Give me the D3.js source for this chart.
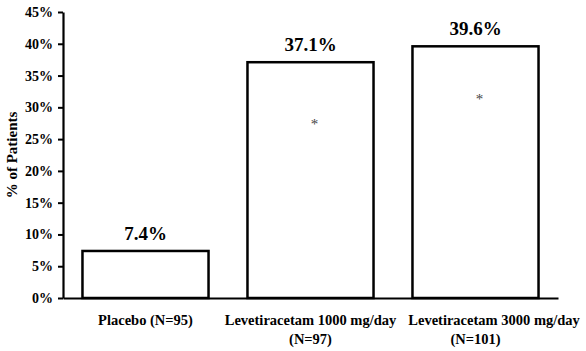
<!DOCTYPE html>
<html lang="en">
<head>
<meta charset="UTF-8">
<title>% of Patients</title>
<script src="https://cdnjs.cloudflare.com/ajax/libs/d3/7.8.5/d3.min.js"></script>
<style>
  body { margin: 0; background: #fff; }
  text { font-family: "Liberation Serif", "Times New Roman", serif; font-weight: bold; }
</style>
</head>
<body>
<div id="wrapper"></div>
<script>
// data
const groups = ['Placebo (N=95)', 'Levetiracetam 1000 mg/day (N=97)', 'Levetiracetam 3000 mg/day (N=101)']
const groupLines = [['Placebo (N=95)'], ['Levetiracetam 1000 mg/day', '(N=97)'], ['Levetiracetam 3000 mg/day', '(N=101)']]
const values = [7.4, 37.1, 39.6]
const valueLabels = ['7.4%', '37.1%', '39.6%']
const starAt = [null, 27.5, 31.5]   // where the significance mark sits
const yTicks = [0, 5, 10, 15, 20, 25, 30, 35, 40, 45]

function drawChart() {
  const dimensions = {
    width: 586,
    height: 351,
    margin: { top: 12, right: 28, bottom: 53, left: 63 }
  }
  dimensions.boundedWidth = dimensions.width - dimensions.margin.left - dimensions.margin.right
  dimensions.boundedHeight = dimensions.height - dimensions.margin.top - dimensions.margin.bottom

  const svg = d3.select('#wrapper')
    .append('svg')
      .attr('width', dimensions.width)
      .attr('height', dimensions.height)

  const bounds = svg.append('g')
    .attr('transform', `translate(${dimensions.margin.left},${dimensions.margin.top})`)

  // scales
  const xScale = d3.scaleBand()
    .domain(groups)
    .range([0, dimensions.boundedWidth])
    .paddingInner(0.236)
    .paddingOuter(0.118)

  const yScale = d3.scaleLinear()
    .domain([0, 45])
    .range([dimensions.boundedHeight, 0])

  // bars
  bounds.selectAll('rect.bar')
    .data(values)
    .join('rect')
      .attr('class', 'bar')
      .attr('x', (d, i) => xScale(groups[i]))
      .attr('y', d => yScale(d))
      .attr('width', xScale.bandwidth())
      .attr('height', d => yScale(0) - yScale(d))
      .attr('fill', '#fff')
      .attr('stroke', '#000')
      .attr('stroke-width', 2.5)

  // value labels
  bounds.selectAll('text.value')
    .data(values)
    .join('text')
      .attr('class', 'value')
      .attr('x', (d, i) => xScale(groups[i]) + xScale.bandwidth() / 2)
      .attr('y', d => yScale(d) - 11)
      .attr('text-anchor', 'middle')
      .style('font-size', '19px')
      .text((d, i) => valueLabels[i])

  // asterisks
  bounds.selectAll('text.star')
    .data(starAt.map((s, i) => ({ s, i })).filter(d => d.s !== null))
    .join('text')
      .attr('class', 'star')
      .attr('x', d => xScale(groups[d.i]) + xScale.bandwidth() / 2 + 4)
      .attr('y', d => yScale(d.s) + 6)
      .attr('text-anchor', 'middle')
      .attr('fill', '#444')
      .style('font-size', '15px')
      .style('font-weight', 'normal')
      .text('*')

  // y axis
  const yAxis = bounds.append('g')
    .call(d3.axisLeft(yScale).tickValues(yTicks).tickSize(5).tickSizeOuter(0).tickFormat(d => d + '%'))
  yAxis.select('.domain').attr('stroke-width', 2.2)
  yAxis.selectAll('.tick line').attr('stroke-width', 2)
  yAxis.selectAll('.tick text')
    .attr('x', -10)
    .style('font-size', '14px')
    .style('font-family', '"Liberation Serif", serif')
    .attr('fill', '#000')

  yAxis.append('text')
    .attr('transform', 'rotate(-90)')
    .attr('x', -dimensions.boundedHeight / 2 + 0)
    .attr('y', -dimensions.margin.left + 17)
    .attr('text-anchor', 'middle')
    .attr('fill', '#000')
    .style('font-size', '15px')
    .text('% of Patients')

  // x axis
  const xAxis = bounds.append('g')
    .attr('transform', `translate(0,${dimensions.boundedHeight})`)
    .call(d3.axisBottom(xScale).tickSize(0).tickFormat(''))
  xAxis.select('.domain').attr('stroke-width', 2.2)

  // first lines push right when they would run into the previous label
  let prevRight = -Infinity
  xAxis.selectAll('.tick').each(function(d, i) {
    const cx = xScale(d) + xScale.bandwidth() / 2
    const t = d3.select(this).append('text')
      .attr('fill', '#000')
      .attr('text-anchor', 'middle')
      .style('font-size', '14.5px')
      .style('font-family', '"Liberation Serif", serif')
    groupLines[i].forEach((line, j) => {
      const span = t.append('tspan')
        .attr('x', 0)
        .attr('y', 27 + j * 18.5)
        .text(line)
      if (j === 0) {
        const w = span.node().getComputedTextLength()
        const shift = Math.max(0, prevRight + 12 - (cx - w / 2))
        span.attr('x', shift)
        prevRight = cx + shift + w / 2
      }
    })
  })
}

drawChart()
</script>
</body>
</html>
